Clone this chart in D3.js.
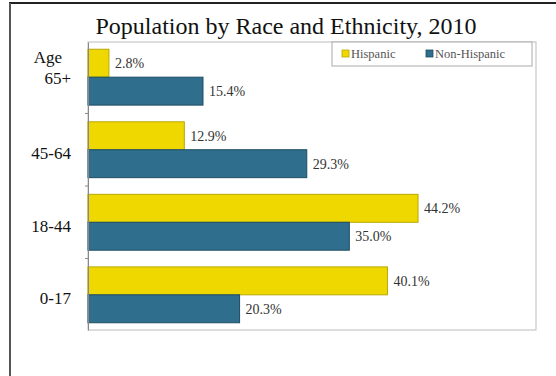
<!DOCTYPE html>
<html><head><meta charset="utf-8">
<script src="https://cdn.jsdelivr.net/npm/d3@7"></script>
<style>
html,body{margin:0;padding:0;background:#fff;}
svg{display:block;}
</style></head>
<body>
<script>
const categories = ["65+", "45-64", "18-44", "0-17"];
const hispanic = [2.8, 12.9, 44.2, 40.1];
const nonHispanic = [15.4, 29.3, 35.0, 20.3];
const seriesNames = ["Hispanic", "Non-Hispanic"];
const valueLabels = [["2.8%", "12.9%", "44.2%", "40.1%"], ["15.4%", "29.3%", "35.0%", "20.3%"]];
const title = "Population by Race and Ethnicity, 2010";

const W = 556, H = 376;
const svg = d3.select("body").append("svg").attr("width", W).attr("height", H);
const colors = ["#EFD800", "#2F6E8D"];
const strokes = ["#B9A800", "#1E4D63"];
const serif = "'Liberation Serif', 'Times New Roman', serif";

// outer frame
svg.append("line").attr("x1", 9).attr("x2", W).attr("y1", 3).attr("y2", 3).attr("stroke", "#222").attr("stroke-width", 2);
svg.append("line").attr("x1", 10).attr("x2", 10).attr("y1", 3).attr("y2", H).attr("stroke", "#555").attr("stroke-width", 2);

const plot = {left: 88, right: 536, top: 42, bottom: 330};
const x = d3.scaleLinear().domain([0, 60]).range([plot.left, plot.right]);
const y = d3.scaleBand().domain(categories).range([plot.top, plot.bottom]).paddingInner(0.23).paddingOuter(0.1);
const y1 = d3.scaleBand().domain(seriesNames).range([0, y.bandwidth()]);

// plot border
svg.append("rect").attr("x", plot.left).attr("y", plot.top).attr("width", plot.right - plot.left).attr("height", plot.bottom - plot.top)
  .attr("fill", "none").attr("stroke", "#bbb").attr("stroke-width", 1);

// title
svg.append("text").attr("x", 286).attr("y", 34).attr("text-anchor", "middle")
  .attr("font-family", serif).attr("font-size", 24).attr("fill", "#111").text(title);

const data = categories.map((c, i) => ({cat: c, vals: [hispanic[i], nonHispanic[i]]}));

const g = svg.append("g");
data.forEach((d, i) => {
  d.vals.forEach((v, s) => {
    const yy = y(d.cat) + y1(seriesNames[s]);
    g.append("rect").attr("x", x(0)).attr("y", yy).attr("width", x(v) - x(0)).attr("height", y1.bandwidth())
      .attr("fill", colors[s]).attr("stroke", strokes[s]).attr("stroke-width", 1);
    g.append("text").attr("x", x(v) + 6).attr("y", yy + y1.bandwidth() / 2).attr("dy", "0.35em")
      .attr("font-family", serif).attr("font-size", 14).attr("fill", "#333").text(valueLabels[s][i]);
  });
});

// left axis
const yAxis = d3.axisLeft(y).tickSize(0).tickFormat(d => d === "65+" ? "" : d);
const ax = svg.append("g").attr("transform", `translate(${plot.left},0)`).call(yAxis);
ax.select(".domain").attr("stroke", "#888");
ax.selectAll("text").attr("font-family", serif).attr("font-size", 17).attr("fill", "#111").attr("x", -17).attr("dy", "0.55em");
// band boundary ticks
const bounds = categories.slice(1).map(c => y(c) - y.step() * y.paddingInner() / 2);
svg.selectAll(".bt").data(bounds).enter().append("line").attr("x1", plot.left - 3).attr("x2", plot.left)
  .attr("y1", d => d).attr("y2", d => d).attr("stroke", "#888");

// "Age 65+" label
svg.append("text").attr("x", 48).attr("y", 63).attr("text-anchor", "middle").attr("font-family", serif).attr("font-size", 17).attr("fill", "#111").text("Age");
svg.append("text").attr("x", 71).attr("y", 84).attr("text-anchor", "end").attr("font-family", serif).attr("font-size", 17).attr("fill", "#111").text(categories[0]);

// legend
const lg = svg.append("g");
lg.append("rect").attr("x", 332).attr("y", 42).attr("width", 200).attr("height", 24).attr("fill", "#fff").attr("stroke", "#aaa");
const legX = [342, 426];
seriesNames.forEach((n, s) => {
  lg.append("rect").attr("x", legX[s]).attr("y", 50).attr("width", 7).attr("height", 7).attr("fill", colors[s]).attr("stroke", strokes[s]).attr("stroke-width", 0.8);
  lg.append("text").attr("x", legX[s] + 9).attr("y", 54).attr("dy", "0.35em").attr("font-family", serif).attr("font-size", 12.5).attr("fill", "#555").text(n);
});
</script>
</body></html>
